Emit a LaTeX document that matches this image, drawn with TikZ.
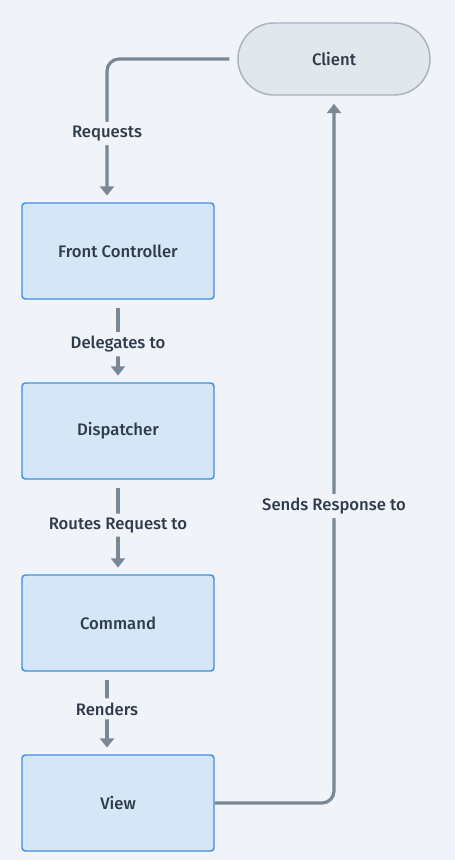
\documentclass[tikz,border=0pt]{standalone}
\usepackage{fontspec}
\setmainfont{Fira Sans}[UprightFont=* Medium]
\usepackage{xcolor}
\usepackage{tikz}
\usetikzlibrary{arrows.meta}

\definecolor{bgcol}{HTML}{F0F3F7}
\definecolor{boxfill}{HTML}{D5E6F6}
\definecolor{boxline}{HTML}{3B8EE0}
\definecolor{clientfill}{HTML}{E2E6ED}
\definecolor{clientline}{HTML}{A8B4C0}
\definecolor{linecol}{HTML}{7A8896}
\definecolor{textcol}{HTML}{2F3B4B}

\tikzset{
  stage/.style={rectangle, draw=boxline, fill=boxfill, line width=1.1pt, rounded corners=2.5pt,
    minimum width=144pt, minimum height=72pt, text=textcol, font=\fontsize{12.5}{14}\selectfont},
  client/.style={rectangle, draw=clientline, fill=clientfill, line width=1.1pt, rounded corners=27pt,
    minimum width=144pt, minimum height=54pt, text=textcol, font=\fontsize{12.5}{14}\selectfont},
  conn/.style={draw=linecol, line width=2.4pt, rounded corners=9pt,
    -{Triangle[width=10.5pt,length=7pt]}},
  lbl/.style={fill=bgcol, text=textcol, inner xsep=2pt, inner ysep=3pt, font=\fontsize{12.5}{14}\selectfont}
}

\begin{document}
\begin{tikzpicture}[x=0.75pt, y=-0.75pt]
\fill[bgcol] (0,0) rectangle (455,860);
\useasboundingbox (0,0) rectangle (455,860);

\node[client] (client) at (334,59) {Client};
\node[stage] (front) at (118,251) {Front Controller};
\node[stage] (disp) at (118,431) {Dispatcher};
\node[stage] (cmd) at (118,623) {Command};
\node[stage] (view) at (118,803) {View};

\draw[conn, shorten <=6pt, shorten >=5pt] (client.west) -| ([xshift=-8.25pt]front.north)
  node[lbl, pos=0.76] {Requests};
\draw[conn, shorten <=6pt, shorten >=5pt] (front.south) -- (disp.north)
  node[lbl, pos=0.54] {Delegates to};
\draw[conn, shorten <=6pt, shorten >=5pt] (disp.south) -- (cmd.north)
  node[lbl, pos=0.48] {Routes Request to};
\draw[conn, shorten <=6pt, shorten >=5pt] ([xshift=-8.25pt]cmd.south) -- ([xshift=-8.25pt]view.north)
  node[lbl, pos=0.45] {Renders};
\draw[conn, shorten >=6pt] (view.east) -| (client.south)
  node[lbl, pos=0.71] {Sends Response to};
\end{tikzpicture}
\end{document}
